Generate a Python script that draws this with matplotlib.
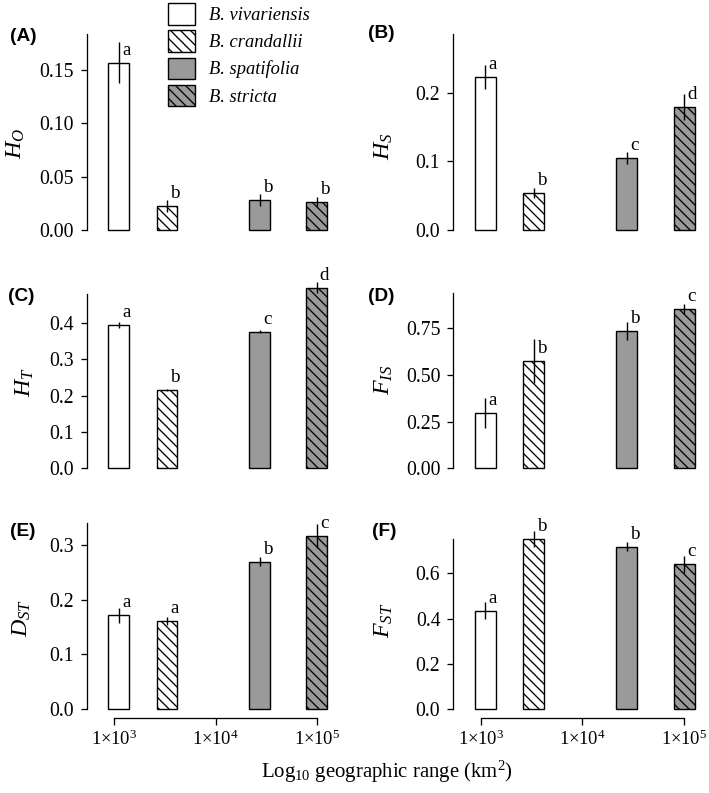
import matplotlib
matplotlib.use("Agg")
import matplotlib.pyplot as plt
import matplotlib.transforms as mtransforms
from matplotlib.patches import Patch

# ---------------- data ----------------
species = ["B. vivariensis", "B. crandallii", "B. spatifolia", "B. stricta"]
log_range = [3.045, 3.52, 4.437, 5.0]          # log10 geographic range (km2)

panel_ids = ["(A)", "(B)", "(C)", "(D)", "(E)", "(F)"]
ylabels = [r"$H_O$", r"$H_S$", r"$H_T$", r"$F_{IS}$", r"$D_{ST}$", r"$F_{ST}$"]

HO_mean = [0.157, 0.0225, 0.028, 0.0266]
HO_se = [0.019, 0.0055, 0.0055, 0.0045]
HS_mean = [0.223, 0.054, 0.105, 0.179]
HS_se = [0.018, 0.0075, 0.0085, 0.0195]
HT_mean = [0.395, 0.216, 0.376, 0.4975]
HT_se = [0.009, 0.003, 0.004, 0.015]
FIS_mean = [0.298, 0.575, 0.737, 0.853]
FIS_se = [0.080, 0.119, 0.049, 0.029]
DST_mean = [0.171, 0.161, 0.269, 0.316]
DST_se = [0.014, 0.007, 0.008, 0.022]
FST_mean = [0.434, 0.750, 0.717, 0.640]
FST_se = [0.038, 0.034, 0.020, 0.038]

HO_letters = ["a", "b", "b", "b"]
HS_letters = ["a", "b", "c", "d"]
HT_letters = ["a", "b", "c", "d"]
FIS_letters = ["a", "b", "b", "c"]
DST_letters = ["a", "a", "b", "c"]
FST_letters = ["a", "b", "b", "c"]

HO_ticks = [0.00, 0.05, 0.10, 0.15]
HO_ticklabels = ["0.00", "0.05", "0.10", "0.15"]
HS_ticks = [0.0, 0.1, 0.2]
HS_ticklabels = ["0.0", "0.1", "0.2"]
HT_ticks = [0.0, 0.1, 0.2, 0.3, 0.4]
HT_ticklabels = ["0.0", "0.1", "0.2", "0.3", "0.4"]
FIS_ticks = [0.00, 0.25, 0.50, 0.75]
FIS_ticklabels = ["0.00", "0.25", "0.50", "0.75"]
DST_ticks = [0.0, 0.1, 0.2, 0.3]
DST_ticklabels = ["0.0", "0.1", "0.2", "0.3"]
FST_ticks = [0.0, 0.2, 0.4, 0.6]
FST_ticklabels = ["0.0", "0.2", "0.4", "0.6"]

x_ticks = [3, 4, 5]
x_ticklabels = ["1×10$^{3}$", "1×10$^{4}$", "1×10$^{5}$"]

# ---------------- style ----------------
DPI = 120
W, H = 709, 793
PT = 72.0 / DPI  # points per pixel

plt.rcParams["font.family"] = ["Liberation Serif", "DejaVu Serif"]
plt.rcParams["mathtext.fontset"] = "custom"
plt.rcParams["mathtext.rm"] = "Liberation Serif"
plt.rcParams["mathtext.it"] = "Liberation Serif:italic"
plt.rcParams["mathtext.bf"] = "Liberation Serif:bold"
plt.rcParams["hatch.linewidth"] = 1.3 * PT

GRAY = "#9a9a9a"
faces = ["white", "white", GRAY, GRAY]
HATCH = "\\" * 4
hatches = [None, HATCH, None, HATCH]
LW = 1.4 * PT

fig = plt.figure(figsize=(W / DPI, H / DPI), dpi=DPI)

XLIM = (2.73, 5.12)
cols = [(87.0, 242.0), (453.3, 243.0)]
rows = [(34.3, 230.0), (293.5, 468.3), (523.3, 709.3)]

panels = [
    (HO_mean, HO_se, HO_letters, HO_ticks, HO_ticklabels, 0.1835, 0.1835),
    (HS_mean, HS_se, HS_letters, HS_ticks, HS_ticklabels, 0.285, 0.285),
    (HT_mean, HT_se, HT_letters, HT_ticks, HT_ticklabels, 0.4815, 0.479),
    (FIS_mean, FIS_se, FIS_letters, FIS_ticks, FIS_ticklabels, 0.936, 0.937),
    (DST_mean, DST_se, DST_letters, DST_ticks, DST_ticklabels, 0.339, 0.339),
    (FST_mean, FST_se, FST_letters, FST_ticks, FST_ticklabels, 0.820, 0.75),
]
label_right = [60, 58, 51, 58, 54, 58]     # px left of spine (right edge of y label)
label_ycen = [143, 146, 382, 380, 618, 620]  # px from top
panel_lab_pos = [(10, 36.7), (368.3, 33.3), (8.3, 296.7), (368, 296.7), (10, 531.7), (371.7, 531.7)]

for i, (mean, se, letters, ticks, tlabels, ytop, spine_top) in enumerate(panels):
    r, c = divmod(i, 2)
    left, width = cols[c]
    top, bottom = rows[r]
    ax = fig.add_axes([left / W, 1 - bottom / H, width / W, (bottom - top) / H])
    ax.set_xlim(*XLIM)
    ax.set_ylim(0, ytop)
    ax.patch.set_visible(False)

    for j in range(4):
        ax.bar(log_range[j], mean[j], width=0.207, color=faces[j], hatch=hatches[j],
               edgecolor="black", linewidth=LW, clip_on=False, zorder=2)
    ax.errorbar(log_range, mean, yerr=se, fmt="none", ecolor="black",
                elinewidth=1.4 * PT, capsize=0, clip_on=False, zorder=3)

    off = mtransforms.offset_copy(ax.transData, fig=fig, x=3, y=8, units="dots")
    for j in range(4):
        ax.text(log_range[j], mean[j], letters[j], transform=off, ha="left",
                va="baseline", fontsize=19 * PT, clip_on=False, zorder=4)

    for s in ["top", "right"]:
        ax.spines[s].set_visible(False)
    ax.spines["left"].set_linewidth(1.3 * PT)
    ax.spines["left"].set_bounds(0, spine_top)
    ax.set_yticks(ticks)
    ax.set_yticklabels(tlabels)
    ax.tick_params(axis="y", length=6 * PT, width=1.3 * PT, pad=7 * PT,
                   labelsize=19.8 * PT, direction="out")

    if r == 2:
        ax.spines["bottom"].set_position(("outward", 9 * PT))
        ax.spines["bottom"].set_bounds(3, 5)
        ax.spines["bottom"].set_linewidth(1.3 * PT)
        ax.set_xticks(x_ticks)
        ax.set_xticklabels(x_ticklabels)
        ax.tick_params(axis="x", length=6.5 * PT, width=1.3 * PT, pad=5 * PT,
                       labelsize=18.5 * PT, direction="out")
    else:
        ax.spines["bottom"].set_visible(False)
        ax.set_xticks([])

    ax.set_ylabel(ylabels[i], fontsize=24 * PT)
    ax.yaxis.set_label_coords(-label_right[i] / width,
                              (bottom - label_ycen[i]) / (bottom - top))

    px, py = panel_lab_pos[i]
    fig.text(px / W, 1 - py / H, panel_ids[i], ha="left", va="center",
             fontsize=19 * PT, fontweight="bold", family="Liberation Sans")

# x-axis title
fig.text(387 / W, 1 - 778 / H, "Log$_{10}$ geographic range (km$^{2}$)",
         ha="center", va="baseline", fontsize=20.8 * PT)

# legend
handles = [Patch(facecolor=faces[j], edgecolor="black", hatch=hatches[j], linewidth=LW)
           for j in range(4)]
LFS = 18.5
fig.legend(handles, species, loc="upper left",
           bbox_to_anchor=(168.3 / W, 1 - 3.3 / H), frameon=False,
           borderpad=0, borderaxespad=0,
           handlelength=27 / LFS, handleheight=26 / LFS,
           labelspacing=5.7 / LFS, handletextpad=13.3 / LFS,
           prop={"family": "Liberation Serif", "style": "italic", "size": LFS * PT})

fig.savefig("out.png", dpi=DPI)
